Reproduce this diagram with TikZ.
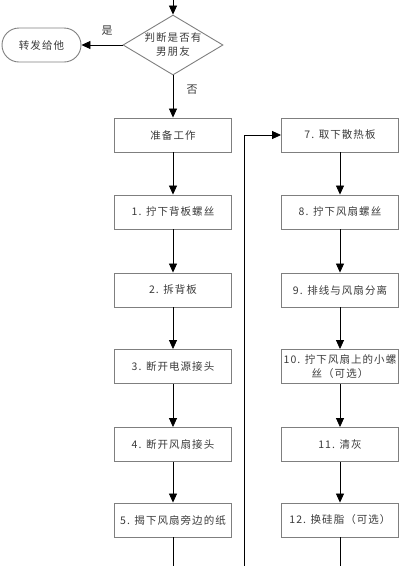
\documentclass[tikz,border=0pt]{standalone}
\usepackage{fontspec}
\setmainfont{Noto Sans CJK SC}[LetterSpace=10]
\usetikzlibrary{shapes.geometric,arrows.meta}
\definecolor{boxgray}{HTML}{7F7F7F}
\definecolor{textgray}{HTML}{3A3A3A}
\begin{document}
\begin{tikzpicture}[x=1pt,y=-1pt,
  box/.style={draw=boxgray, line width=0.9pt, minimum width=117pt, minimum height=34pt,
    inner sep=1pt, font=\fontsize{10.5}{14}\selectfont, text=textgray, align=center},
  conn/.style={line width=0.8pt, draw=black, -{Triangle[length=9pt,width=8pt]}},
  plain/.style={line width=0.8pt, draw=black},
  lbl/.style={font=\fontsize{11}{13}\selectfont, text=textgray}]
\useasboundingbox (0,0) rectangle (400,566);

% decision
\node[diamond, draw=boxgray, line width=0.9pt, minimum width=100pt, minimum height=60pt, inner sep=0pt] (d) at (173,45) {};
\node[align=center, font=\fontsize{10.5}{14}\selectfont, text=textgray, inner sep=0pt] (dt) at (d) {判断是否有\\男朋友};
\node[draw=boxgray, line width=0.9pt, rounded corners=17pt, minimum width=79pt, minimum height=34pt,
  font=\fontsize{10.5}{14}\selectfont, text=textgray] (t) at (41.5,45) {转发给他};
\coordinate (top) at (173,0);
\draw[conn] (top) -- (d.north);
\draw[conn] (d.west) -- (t.east);
\node[lbl] (yes) at (107,31) {是};
\node[lbl] (no) at (192,90) {否};

% left column
\node[box] (p) at (173,135) {准备工作};
\node[box] (b1) at (173,212) {1. 拧下背板螺丝};
\node[box] (b2) at (173,290) {2. 拆背板};
\node[box] (b3) at (173,366.5) {3. 断开电源接头};
\node[box] (b4) at (173,444.5) {4. 断开风扇接头};
\node[box] (b5) at (173,520) {5. 揭下风扇旁边的纸};

% right column
\node[box] (b7) at (340,135) {7. 取下散热板};
\node[box] (b8) at (340,212) {8. 拧下风扇螺丝};
\node[box] (b9) at (340,290) {9. 排线与风扇分离};
\node[box] (b10) at (340,366.5) {10. 拧下风扇上的小螺\\丝（可选）};
\node[box] (b11) at (340,444.5) {11. 清灰};
\node[box] (b12) at (340,520) {12. 换硅脂（可选）};

\draw[conn] (d.south) -- (p.north);
\draw[conn] (p) -- (b1);
\draw[conn] (b1) -- (b2);
\draw[conn] (b2) -- (b3);
\draw[conn] (b3) -- (b4);
\draw[conn] (b4) -- (b5);
\coordinate (lbot) at (173,566);
\draw[plain] (b5.south) -- (lbot);

\draw[conn] (b7) -- (b8);
\draw[conn] (b8) -- (b9);
\draw[conn] (b9) -- (b10);
\draw[conn] (b10) -- (b11);
\draw[conn] (b11) -- (b12);
\coordinate (rbot) at (340,566);
\draw[plain] (b12.south) -- (rbot);

\coordinate (mbot) at (244,566);
\draw[conn] (mbot) |- (b7.west);
\end{tikzpicture}
\end{document}
